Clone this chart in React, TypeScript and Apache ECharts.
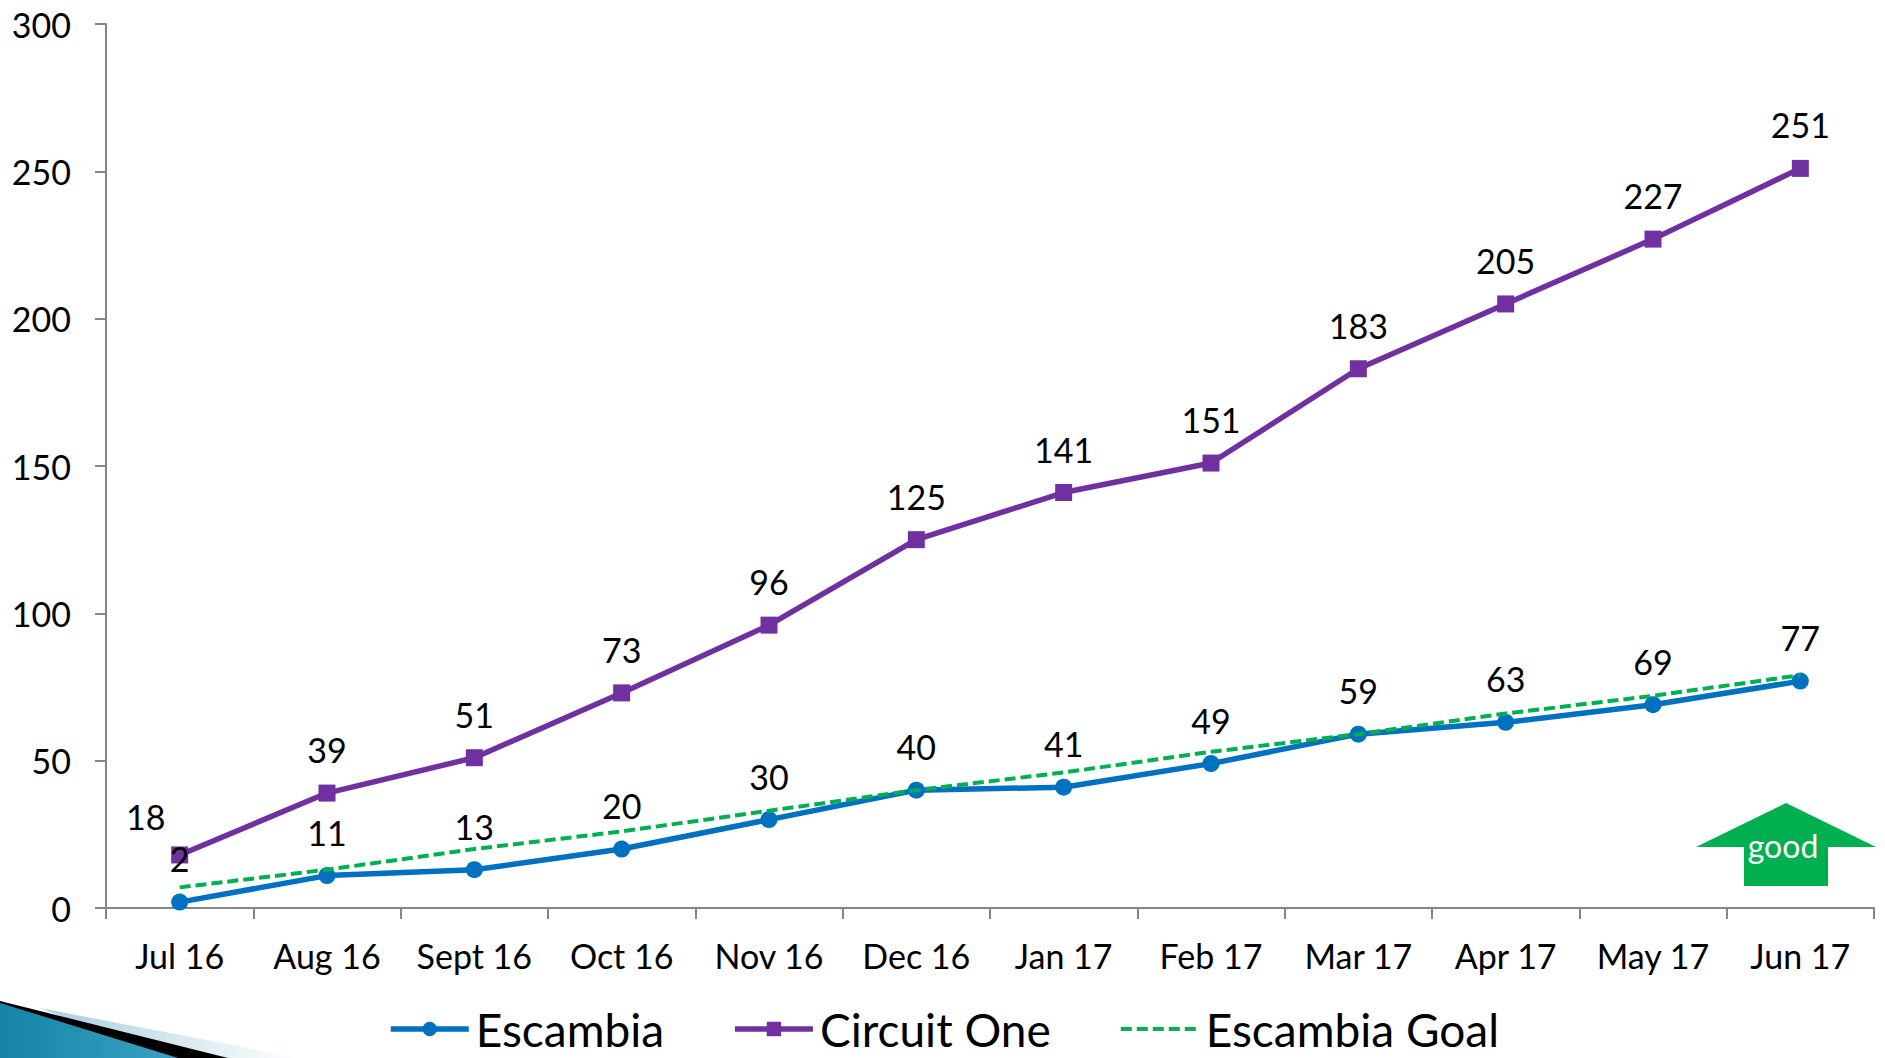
import React, { useEffect, useRef } from "react";
import * as echarts from "echarts";

const categories = ["Jul 16","Aug 16","Sept 16","Oct 16","Nov 16","Dec 16","Jan 17","Feb 17","Mar 17","Apr 17","May 17","Jun 17"];
const escambia = [2,11,13,20,30,40,41,49,59,63,69,77];
const circuitOne = [18,39,51,73,96,125,141,151,183,205,227,251];
const escambiaGoal = [7,13,20,26,33,40,46,53,59,66,72,79];
const FONT = "Lato";

export default function App() {
  const ref = useRef<HTMLDivElement>(null);
  useEffect(() => {
    document.body.style.margin = "0";
    document.body.style.overflow = "hidden";
    const chart = echarts.init(ref.current!, null, { renderer: "svg" });
    const label = { show: true, position: "top" as const, distance: 18, fontFamily: FONT, fontSize: 34, color: "#000" };
    chart.setOption({
      animation: false,
      backgroundColor: "#fff",
      textStyle: { fontFamily: FONT },
      grid: { left: 106, right: 11, top: 24, bottom: 150 },
      legend: {
        left: 388, top: 1006, itemWidth: 78, itemHeight: 18, itemGap: 68, padding: 0,
        textStyle: { fontFamily: FONT, fontSize: 46, color: "#000", padding: [0,0,0,2] },
        data: [
          { name: "Escambia", lineStyle: { width: 5.5 } },
          { name: "Circuit One", lineStyle: { width: 5.5 } },
          { name: "Escambia Goal", lineStyle: { width: 4 }, itemStyle: { color: "transparent", opacity: 0 } },
        ],
      },
      xAxis: {
        type: "category", data: categories, boundaryGap: true,
        axisLine: { lineStyle: { color: "#868686", width: 2 } },
        axisTick: { show: true, alignWithLabel: false, length: 11, lineStyle: { color: "#868686", width: 2 } },
        axisLabel: { margin: 30, fontFamily: FONT, fontSize: 34, color: "#000", interval: 0 },
      },
      yAxis: {
        type: "value", min: 0, max: 300, interval: 50,
        axisLine: { show: true, lineStyle: { color: "#868686", width: 2 } },
        axisTick: { show: true, length: 11, lineStyle: { color: "#868686", width: 2 } },
        splitLine: { show: false },
        axisLabel: { margin: 35, fontFamily: FONT, fontSize: 34, color: "#000" },
      },
      series: [
        { name: "Escambia", type: "line", data: escambia, symbol: "circle", symbolSize: 17,
          lineStyle: { color: "#0070C0", width: 5.5 }, itemStyle: { color: "#0070C0" }, label, z: 3 },
        { name: "Circuit One", type: "line",
          data: circuitOne.map((v, i) => i === 0 ? { value: v, label: { offset: [-34, 5] } } : v),
          symbol: "rect", symbolSize: 17,
          lineStyle: { color: "#7030A0", width: 5.5 }, itemStyle: { color: "#7030A0" }, label, z: 2 },
        { name: "Escambia Goal", type: "line", data: escambiaGoal, symbol: "none",
          lineStyle: { color: "#00B050", width: 4, type: [11, 5] }, itemStyle: { color: "#00B050" }, z: 4 },
      ],
      graphic: [
        { type: "polygon", silent: true, shape: { points: [[40,1008],[300,1058],[170,1058]] },
          style: { fill: { type: "linear", x: 0, y: 0, x2: 1, y2: 0, colorStops: [{ offset: 0, color: "#a9cfdd" }, { offset: 1, color: "#ffffff" }] } } },
        { type: "polygon", silent: true, shape: { points: [[0,1001],[228,1058],[170,1058],[0,1004]] }, style: { fill: "#000" } },
        { type: "polygon", silent: true, shape: { points: [[0,1003],[178,1058],[0,1058]] },
          style: { fill: { type: "linear", x: 0, y: 0, x2: 1, y2: 0, colorStops: [{ offset: 0, color: "#1583a6" }, { offset: 1, color: "#3aa3c4" }] } } },
        { type: "polygon", silent: true, z: 10,
          shape: { points: [[1786,803],[1876,847],[1828,847],[1828,886],[1744,886],[1744,847],[1696,847]] }, style: { fill: "#00B050" } },
        { type: "text", silent: true, z: 11, x: 1783, y: 845,
          style: { text: "good", fill: "#fff", font: `32px ${FONT}`, textAlign: "center", textVerticalAlign: "middle" } },
      ],
    });
    return () => chart.dispose();
  }, []);
  return <div ref={ref} style={{ width: 1885, height: 1058 }} />;
}
